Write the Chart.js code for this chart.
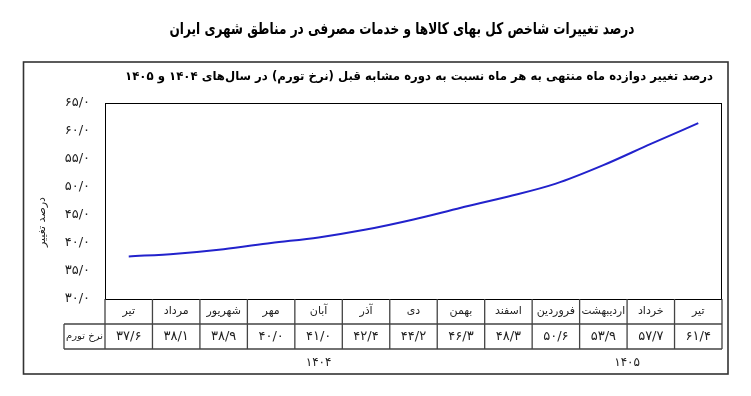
<!DOCTYPE html>
<html lang="fa">
<head>
<meta charset="utf-8">
<script src="https://cdn.jsdelivr.net/npm/chart.js@4.4.1/dist/chart.umd.min.js"></script>
<style>
html, body { margin: 0; padding: 0; background: #fff; }
#wrap { width: 751px; height: 396px; }
</style>
</head>
<body>
<div id="wrap"><canvas id="myChart" width="751" height="396"></canvas></div>
<script>
// data
const months = ['تیر', 'مرداد', 'شهریور', 'مهر', 'آبان', 'آذر', 'دی', 'بهمن', 'اسفند', 'فروردین', 'اردیبهشت', 'خرداد', 'تیر'];
const inflation = [37.6, 38.1, 38.9, 40.0, 41.0, 42.4, 44.2, 46.3, 48.3, 50.6, 53.9, 57.7, 61.4];
const years = ['۱۴۰۴', '۱۴۰۵'];
const monthsPerYear = [9, 4];
const mainTitle = 'درصد تغییرات شاخص کل بهای کالاها و خدمات مصرفی در مناطق شهری ایران';
const subTitle = 'درصد تغییر دوازده ماه منتهی به هر ماه نسبت به دوره مشابه قبل (نرخ تورم) در سال‌های ۱۴۰۴ و ۱۴۰۵';
const rowLabel = 'نرخ تورم';
const yTitle = 'درصد تغییر';

const faFont = '"DejaVu Sans", sans-serif';

// 37.6 -> ۳۷/۶
function toFa(v) {
    return Number(v).toFixed(1).replace('.', '/').replace(/[0-9]/g, d => '۰۱۲۳۴۵۶۷۸۹'[d]);
}

// squeeze text horizontally when it is wider than maxW
function fitText(ctx, text, x, y, maxW) {
    const w = ctx.measureText(text).width;
    ctx.save();
    ctx.translate(x, y);
    if (w > maxW) ctx.scale(maxW / w, 1);
    ctx.fillText(text, 0, 0);
    ctx.restore();
}

// box, titles, plot frame and data table under the chart
const tablePlugin = {
    id: 'tablePlugin',
    afterDraw(chart) {
        const ctx = chart.ctx;
        const area = chart.chartArea;
        const x = chart.scales.x;
        const step = x.getPixelForValue(1) - x.getPixelForValue(0);
        const rowH = 25;
        const labelLeft = 64;
        const top = area.bottom;

        ctx.save();
        ctx.direction = 'rtl';
        ctx.textAlign = 'center';
        ctx.textBaseline = 'middle';

        // outer box
        ctx.strokeStyle = '#333';
        ctx.lineWidth = 1.6;
        ctx.strokeRect(23.5, 62, 704.5, 312);

        // titles
        ctx.fillStyle = '#000';
        ctx.font = 'bold 16px ' + faFont;
        fitText(ctx, mainTitle, 402, 30, 465);
        ctx.font = 'bold 12px ' + faFont;
        fitText(ctx, subTitle, 419, 77, 588);

        // y axis title
        ctx.fillStyle = '#222';
        ctx.font = '11px ' + faFont;
        ctx.save();
        ctx.translate(42, 222);
        ctx.rotate(-Math.PI / 2);
        ctx.fillText(yTitle, 0, 0);
        ctx.restore();

        // plot frame
        ctx.strokeStyle = '#000';
        ctx.lineWidth = 1;
        ctx.strokeRect(area.left + 0.5, area.top + 0.5, area.right - area.left - 1, area.bottom - area.top);

        // table grid
        ctx.strokeStyle = '#444';
        ctx.lineWidth = 1.3;
        ctx.beginPath();
        ctx.moveTo(labelLeft, top + rowH);
        ctx.lineTo(area.right, top + rowH);
        ctx.moveTo(labelLeft, top + 2 * rowH);
        ctx.lineTo(area.right, top + 2 * rowH);
        ctx.moveTo(labelLeft, top + rowH);
        ctx.lineTo(labelLeft, top + 2 * rowH);
        for (let i = 0; i <= months.length; i++) {
            const px = x.getPixelForValue(i) - step / 2;
            ctx.moveTo(px, top);
            ctx.lineTo(px, top + 2 * rowH);
        }
        ctx.stroke();

        // cell texts
        ctx.fillStyle = '#222';
        months.forEach((m, i) => {
            const cx = x.getPixelForValue(i);
            ctx.font = '11px ' + faFont;
            fitText(ctx, m, cx, top + rowH / 2, step - 4);
            ctx.font = '13px ' + faFont;
            ctx.fillText(toFa(inflation[i]), cx, top + rowH * 1.5);
        });
        ctx.font = '10px ' + faFont;
        fitText(ctx, rowLabel, (labelLeft + area.left) / 2, top + rowH * 1.5, area.left - labelLeft - 3);

        // years under their month groups
        ctx.font = '12px ' + faFont;
        let start = 0;
        years.forEach((yr, k) => {
            const mid = start + (monthsPerYear[k] - 1) / 2;
            ctx.fillText(yr, x.getPixelForValue(mid), top + 2 * rowH + 14);
            start += monthsPerYear[k];
        });
        ctx.restore();
    }
};

new Chart('myChart', {
    type: 'line',
    data: {
        labels: months,
        datasets: [{
            label: rowLabel,
            data: inflation,
            borderColor: '#2222cc',
            borderWidth: 2,
            pointRadius: 0,
            cubicInterpolationMode: 'monotone',
            fill: false
        }]
    },
    options: {
        responsive: false,
        animation: false,
        layout: { padding: { left: 24, top: 103, right: 29, bottom: 97 } },
        plugins: {
            legend: { display: false },
            tooltip: { enabled: false }
        },
        scales: {
            x: { type: 'category', display: false, offset: true },
            y: {
                min: 30,
                max: 65,
                grid: { display: false, drawTicks: false },
                border: { display: false },
                ticks: {
                    stepSize: 5,
                    padding: 15,
                    color: '#222',
                    font: { family: faFont, size: 13 },
                    callback: v => toFa(v)
                },
                afterFit(s) { s.width = 81; }
            }
        }
    },
    plugins: [tablePlugin]
});
</script>
</body>
</html>
